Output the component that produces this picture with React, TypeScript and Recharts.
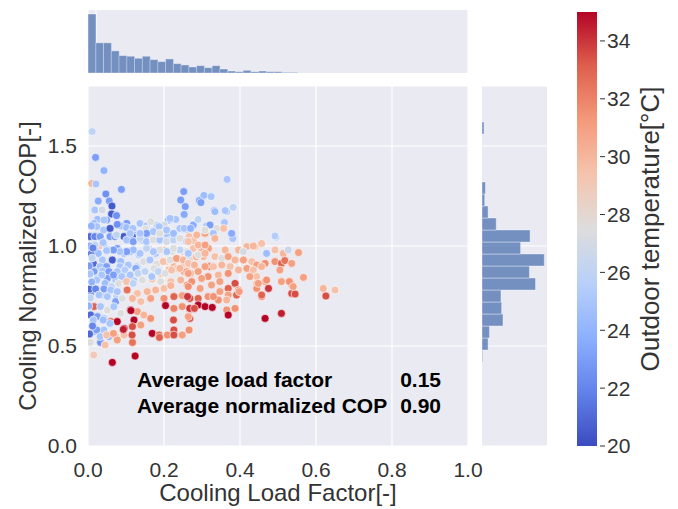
import {
  ScatterChart,
  Scatter,
  ComposedChart,
  Bar,
  XAxis,
  YAxis,
  CartesianGrid,
  Customized,
} from "recharts";

const FONT = "'Liberation Sans', Arial, sans-serif";
const INK = "#333333";
const PANEL = "#eaeaf2";
const HIST = "#4c72b0";

// axis ticks
const loadTicks = [0, 0.2, 0.4, 0.6, 0.8, 1.0];
const copTicks = [0, 0.5, 1.0, 1.5];
const tempTicks = [20, 22, 24, 26, 28, 30, 32, 34];
const tempDomain: [number, number] = [20, 35];

// summary numbers printed in the panel
const avgLoadFactor = 0.15;
const avgNormCop = 0.9;

// marginal histograms (counts)
// load factor: 49 bins over 0..1
const loadCounts = [
  88, 45, 45, 33, 26, 25, 22, 25, 20, 17, 21, 14, 12, 9, 11, 8, 11, 6, 3, 2, 4, 2, 3, 2, 2, 1, 1,
  0, 0, 0, 0, 0, 0, 0, 0, 0, 0, 0, 0, 0, 0, 0, 0, 0, 0, 0, 0, 0, 0,
];
// normalized COP: 30 bins over 0..1.8
const copCounts = [
  0, 0, 0, 0, 0, 0, 0, 1, 9, 11, 31, 29, 28, 79, 70, 92, 57, 71, 21, 9, 4, 5, 0, 0, 0, 0, 3, 0, 0, 0,
];

// [load factor, normalized COP, outdoor temperature]
const samples: [number, number, number][] = [
  // upper / sparse
  [0.011, 1.572, 26], [0.02, 1.443, 23], [0.042, 1.377, 24], [0.01, 1.313, 30], [0.021, 1.31, 25],
  [0.088, 1.283, 23], [0.047, 1.26, 22.5], [0.252, 1.272, 23], [0.366, 1.333, 25], [0.027, 1.225, 23.5],
  [0.056, 1.225, 23], [0.063, 1.2, 20.5], [0.305, 1.253, 24.5], [0.324, 1.247, 25], [0.244, 1.23, 23],
  [0.293, 1.227, 23.5], [0.256, 1.197, 23], [0.381, 1.192, 25.5], [0.332, 1.177, 24], [0.365, 1.172, 25],
  [0.018, 1.18, 25], [0.037, 1.18, 27], [0.062, 1.16, 20.5], [0.253, 1.158, 23.5], [0.358, 1.117, 25],
  [0.025, 1.133, 24.5], [0.049, 1.13, 23], [0.075, 1.152, 22.5], [0.102, 1.113, 23], [0.088, 1.1, 25],
  [0.212, 1.13, 23.5], [0.231, 1.133, 25], [0.137, 1.113, 25], [0.154, 1.1, 25], [0.181, 1.105, 26],
  [0.201, 1.105, 27], [0.277, 1.105, 23.5], [0.312, 1.1, 25], [0.339, 1.088, 27.5], [0.358, 1.093, 29.5],
  [0.041, 1.08, 25], [0.119, 1.08, 23], [0.242, 1.088, 25], [0.26, 1.08, 26], [0.308, 1.063, 31],
  [0.381, 1.037, 25], [0.495, 1.043, 26],
  [0.005, 1.047, 21], [0.018, 1.047, 22], [0.032, 1.047, 23], [0.058, 1.047, 23], [0.071, 1.047, 22.5],
  [0.095, 1.047, 20.5], [0.117, 1.047, 21], [0.203, 1.047, 27.5], [0.225, 1.047, 25],
  // core, upper half
  [0.216, 1.138, 25], [0.165, 1.122, 27.5], [0.077, 1.108, 22.5], [0.058, 1.088, 20.5], [0.102, 1.092, 24.5],
  [0.042, 1.13, 25], [0.016, 1.113, 24.5], [0.118, 1.088, 25], [0.152, 1.085, 27.5], [0.187, 1.097, 25],
  [0.209, 1.08, 27], [0.253, 1.088, 25], [0.27, 1.088, 24], [0.165, 1.055, 27.5], [0.178, 1.055, 27.5],
  [0.209, 1.047, 25], [0.121, 1.022, 25], [0.143, 1.03, 24.5], [0.191, 1.038, 25.5], [0.218, 1.03, 26],
  [0.244, 1.038, 24.5], [0.266, 1.047, 29.5], [0.042, 1.005, 25], [0.03, 1.0, 29], [0.055, 0.98, 24.5],
  [0.077, 0.988, 23], [0.095, 0.963, 25], [0.112, 0.972, 24.5], [0.134, 0.955, 25.5], [0.161, 0.988, 27.5],
  [0.178, 0.963, 25], [0.2, 0.98, 29.5], [0.222, 0.972, 27.5], [0.235, 0.938, 31], [0.253, 0.972, 30],
  [0.266, 0.947, 29.5], [0.014, 0.913, 21], [0.038, 0.93, 25], [0.064, 0.93, 20.5], [0.086, 0.922, 24.5],
  [0.103, 0.897, 25], [0.13, 0.897, 23], [0.152, 0.922, 27.5], [0.178, 0.905, 29.5], [0.204, 0.922, 29.5],
  [0.226, 0.897, 30], [0.253, 0.913, 29.5], [0.27, 0.905, 27.5],
  [0.317, 0.988, 31], [0.299, 0.972, 30], [0.277, 0.988, 29.5], [0.26, 0.972, 27.5], [0.242, 0.98, 26],
  [0.225, 0.988, 27.5], [0.207, 0.972, 25], [0.189, 0.98, 27.5], [0.172, 0.972, 25], [0.154, 0.988, 26],
  [0.137, 0.963, 25], [0.119, 0.98, 24.5], [0.102, 0.972, 23], [0.084, 0.972, 25], [0.067, 0.98, 23],
  [0.049, 0.977, 25], [0.027, 0.963, 24.5], [0.016, 0.988, 23], [0.102, 1.03, 25], [0.119, 1.022, 23],
  [0.137, 1.038, 26], [0.154, 1.022, 25], [0.172, 1.03, 27.5], [0.189, 1.03, 25], [0.207, 1.022, 27],
  [0.225, 1.03, 26], [0.242, 1.038, 27.5], [0.26, 1.022, 25], [0.277, 1.027, 29.5], [0.04, 1.017, 25],
  [0.018, 1.005, 26], [0.172, 1.072, 25], [0.189, 1.063, 27.5], [0.207, 1.08, 25], [0.225, 1.063, 24.5],
  [0.154, 1.063, 23], [0.137, 1.063, 25], [0.111, 1.063, 25], [0.075, 1.055, 26], [0.023, 1.097, 25],
  [0.032, 0.897, 25], [0.049, 0.897, 23], [0.084, 0.897, 25], [0.106, 0.905, 25], [0.128, 0.897, 26],
  [0.146, 0.922, 27.5], [0.163, 0.93, 25], [0.181, 0.91, 27.5], [0.198, 0.922, 29.5], [0.216, 0.93, 27.5],
  [0.233, 0.938, 31], [0.251, 0.93, 30], [0.268, 0.933, 27.5], [0.286, 0.947, 31], [0.304, 0.947, 30],
  [0.321, 0.897, 33],
  // core, lower half
  [0.016, 0.872, 23], [0.038, 0.875, 25], [0.055, 0.872, 23], [0.077, 0.872, 25], [0.097, 0.88, 25.5],
  [0.126, 0.888, 23.5], [0.147, 0.872, 26], [0.174, 0.888, 27.5], [0.191, 0.863, 29.5], [0.213, 0.88, 30],
  [0.235, 0.888, 29.5], [0.253, 0.872, 31], [0.27, 0.863, 30], [0.025, 0.838, 25], [0.051, 0.838, 23],
  [0.073, 0.83, 25], [0.095, 0.835, 23.5], [0.121, 0.825, 25], [0.143, 0.83, 27.5], [0.169, 0.835, 29.5],
  [0.191, 0.822, 27.5], [0.218, 0.822, 29.5], [0.244, 0.83, 30], [0.261, 0.805, 31],
  [0.067, 0.855, 23], [0.036, 0.855, 25], [0.089, 0.847, 25], [0.111, 0.855, 25], [0.132, 0.863, 26],
  [0.15, 0.872, 26], [0.168, 0.847, 25], [0.185, 0.872, 26], [0.203, 0.863, 27.5], [0.22, 0.88, 29.5],
  [0.242, 0.888, 30], [0.26, 0.872, 31],
  [0.023, 0.83, 25], [0.045, 0.813, 24.5], [0.062, 0.797, 26], [0.08, 0.813, 27.5], [0.102, 0.822, 29.5],
  [0.119, 0.813, 26], [0.01, 0.763, 23], [0.027, 0.755, 29.5], [0.04, 0.755, 25], [0.075, 0.747, 26],
  [0.005, 0.785, 21], [0.02, 0.785, 22], [0.042, 0.785, 23], [0.06, 0.78, 25], [0.077, 0.772, 25],
  [0.103, 0.78, 32.5], [0.13, 0.763, 29.5], [0.156, 0.772, 30], [0.178, 0.78, 30], [0.2, 0.788, 29.5],
  [0.218, 0.802, 30], [0.029, 0.755, 25], [0.051, 0.747, 25], [0.073, 0.722, 23], [0.09, 0.738, 27.5],
  [0.117, 0.738, 30], [0.139, 0.722, 29.5], [0.165, 0.738, 31], [0.2, 0.738, 31.5], [0.226, 0.747, 33],
  [0.248, 0.752, 31], [0.268, 0.738, 33.5], [0.016, 0.697, 33], [0.033, 0.697, 25], [0.051, 0.68, 27.5],
  [0.068, 0.697, 25], [0.086, 0.663, 27.5], [0.112, 0.68, 35], [0.13, 0.672, 31], [0.147, 0.655, 30],
  [0.165, 0.638, 31.5], [0.204, 0.702, 35], [0.226, 0.688, 32], [0.248, 0.697, 31.5], [0.268, 0.688, 34.5],
  [0.007, 0.655, 21], [0.025, 0.647, 23], [0.042, 0.638, 25], [0.06, 0.622, 33], [0.077, 0.622, 35],
  [0.095, 0.588, 35], [0.121, 0.63, 35], [0.117, 0.597, 33.5], [0.139, 0.605, 31], [0.169, 0.563, 35],
  [0.187, 0.555, 33], [0.209, 0.555, 31.5], [0.226, 0.58, 33.5], [0.226, 0.555, 33.5], [0.248, 0.555, 31],
  [0.266, 0.58, 31.5], [0.268, 0.638, 33.5], [0.016, 0.572, 24.5], [0.042, 0.58, 25], [0.055, 0.547, 24],
  [0.073, 0.547, 29.5], [0.077, 0.53, 31], [0.095, 0.555, 29.5], [0.117, 0.518, 32.5], [0.006, 0.518, 27.5],
  [0.033, 0.518, 22.5], [0.045, 0.505, 29.5], [0.015, 0.455, 29], [0.124, 0.45, 35], [0.064, 0.418, 35],
  [0.014, 0.63, 25], [0.04, 0.63, 24.5], [0.058, 0.613, 25], [0.023, 0.58, 23], [0.032, 0.547, 25],
  [0.049, 0.555, 29.5], [0.067, 0.563, 31],
  // mid load band
  [0.297, 1.217, 23], [0.334, 1.172, 24.5], [0.361, 1.177, 25], [0.382, 1.193, 26], [0.321, 1.105, 23],
  [0.29, 1.133, 26], [0.359, 1.117, 25], [0.357, 1.088, 29.5], [0.308, 1.08, 27.5], [0.33, 1.063, 25],
  [0.378, 1.063, 23.5], [0.492, 1.05, 25.5], [0.286, 1.055, 30], [0.334, 1.038, 30], [0.264, 1.022, 29.5],
  [0.29, 1.005, 30], [0.308, 1.005, 31], [0.361, 0.98, 30], [0.418, 0.997, 30], [0.439, 0.997, 30],
  [0.457, 1.013, 29.5], [0.47, 0.963, 24.5], [0.492, 0.98, 29.5], [0.514, 0.963, 30], [0.527, 0.98, 26.5],
  [0.396, 0.98, 30], [0.409, 0.972, 27], [0.264, 0.963, 25], [0.29, 0.955, 27.5], [0.308, 0.963, 30],
  [0.334, 0.947, 29.5], [0.352, 0.938, 27.5], [0.369, 0.947, 31], [0.387, 0.93, 30], [0.409, 0.93, 31],
  [0.431, 0.922, 29.5], [0.444, 0.905, 31], [0.466, 0.913, 31.5], [0.492, 0.922, 31.5], [0.509, 0.913, 33],
  [0.264, 0.913, 29.5], [0.28, 0.905, 30], [0.308, 0.897, 31], [0.33, 0.897, 29.5], [0.352, 0.905, 30],
  [0.374, 0.897, 29.5], [0.396, 0.88, 30], [0.418, 0.888, 31], [0.435, 0.88, 29.5], [0.457, 0.897, 30],
  [0.505, 0.88, 31], [0.264, 0.863, 31], [0.29, 0.872, 31], [0.316, 0.847, 31.5], [0.343, 0.855, 30],
  [0.369, 0.863, 31.5], [0.273, 0.822, 31.5], [0.299, 0.838, 31], [0.347, 0.822, 31], [0.387, 0.813, 33.5],
  [0.444, 0.813, 30], [0.466, 0.822, 31], [0.509, 0.822, 31], [0.536, 0.805, 31.5], [0.264, 0.797, 31.5],
  [0.295, 0.788, 31], [0.325, 0.805, 31], [0.369, 0.788, 33], [0.396, 0.78, 31.5], [0.444, 0.788, 31.5],
  [0.475, 0.788, 34], [0.369, 0.755, 31], [0.391, 0.755, 33], [0.457, 0.747, 32], [0.536, 0.763, 33.5],
  [0.262, 0.747, 34], [0.29, 0.738, 33], [0.316, 0.747, 31.5], [0.343, 0.73, 31.5], [0.365, 0.73, 30],
  [0.268, 0.688, 34], [0.29, 0.705, 35], [0.308, 0.697, 35], [0.327, 0.693, 35], [0.28, 0.688, 33.5],
  [0.264, 0.647, 31], [0.365, 0.68, 31.5], [0.387, 0.688, 31.5], [0.369, 0.655, 35], [0.466, 0.638, 35],
  [0.509, 0.663, 34.5],
  // high load tail
  [0.554, 0.967, 31], [0.518, 0.927, 32.5], [0.536, 0.913, 31], [0.567, 0.843, 31], [0.53, 0.822, 31.5],
  [0.619, 0.788, 30], [0.65, 0.78, 29.5], [0.626, 0.75, 33.5], [0.545, 0.76, 33.5], [0.54, 0.797, 31],
  [0.457, 0.755, 33], [0.435, 1.0, 30], [0.47, 0.83, 31.5], [0.444, 0.847, 29.5], [0.426, 0.847, 31],
  [0.448, 0.813, 31], [0.398, 0.772, 31], [0.347, 0.772, 31], [0.33, 0.747, 31.5], [0.225, 0.63, 33.5],
  [0.188, 0.543, 33], [0.116, 0.555, 33.5], [0.113, 0.677, 35], [0.093, 0.583, 34.5],
  // near-zero load
  [0.004, 1.0, 24], [0.008, 0.96, 22], [0.003, 0.9, 23], [0.01, 0.82, 24], [0.006, 0.74, 26],
  [0.012, 0.6, 22], [0.004, 0.56, 21], [0.009, 1.1, 24], [0.013, 0.99, 22], [0.002, 0.7, 24],
  [0.011, 0.94, 26], [0.005, 0.86, 25],
];

// matplotlib "coolwarm"
const coolwarmStops = [
  [59, 76, 192], [98, 130, 234], [141, 176, 254], [184, 208, 249], [221, 221, 221],
  [245, 196, 173], [244, 154, 123], [222, 96, 77], [180, 4, 38],
];

function tempColor(t: number) {
  const n = coolwarmStops.length - 1;
  const f = Math.min(Math.max((t - tempDomain[0]) / (tempDomain[1] - tempDomain[0]), 0), 1) * n;
  const i = Math.min(Math.floor(f), n - 1);
  const k = f - i;
  const a = coolwarmStops[i];
  const b = coolwarmStops[i + 1];
  const c = a.map((v, j) => Math.round(v + (b[j] - v) * k));
  return `rgb(${c[0]},${c[1]},${c[2]})`;
}

const points = samples.map(([x, y, t]) => ({ x, y, t }));
const loadHist = loadCounts.map((count, bin) => ({ bin, count }));
const copHist = copCounts.map((count, bin) => ({ bin, count }));
const colorbarData = [{ name: "temp", span: tempDomain }];

const tickStyle = { fontSize: 21, fill: INK, fontFamily: FONT };
const labelStyle = { fontSize: 24, fill: INK, fontFamily: FONT, textAnchor: "middle" as const };

const Dot = (props: any) => {
  const { cx, cy, payload } = props;
  if (cx == null || cy == null) return null;
  return <circle cx={cx} cy={cy} r={4} fill={tempColor(payload.t)} stroke="#ffffff" strokeWidth={0.6} />;
};

// matplotlib-style colour bar tick: short dash, small gap, label
const ColorbarTick = (props: any) => {
  const { x, y, payload } = props;
  return (
    <g>
      <line x1={x + 3} x2={x + 8} y1={y} y2={y} stroke={INK} strokeWidth={1} />
      <text x={x + 10} y={y} dy="0.355em" textAnchor="start" {...tickStyle}>
        {payload.value}
      </text>
    </g>
  );
};

// ticks that exist for the grid but draw nothing
const NoTick = () => <g />;

const Summary = () => (
  <g fontFamily={FONT} fontWeight="bold" fontSize={21} fill="#000">
    <text x={137} y={387}>Average load factor</text>
    <text x={441} y={387} textAnchor="end">
      {avgLoadFactor.toFixed(2)}
    </text>
    <text x={137} y={413}>Average normalized COP</text>
    <text x={441} y={413} textAnchor="end">
      {avgNormCop.toFixed(2)}
    </text>
  </g>
);

export default function App() {
  return (
    <div
      style={{
        position: "absolute",
        left: 0,
        top: 0,
        width: 678,
        height: 509,
        background: "#fff",
        fontFamily: FONT,
        overflow: "hidden",
      }}
    >
      {/* gradient shared by the colour bar */}
      <svg width={0} height={0} style={{ position: "absolute" }}>
        <defs>
          <linearGradient id="coolwarm" x1="0" y1="1" x2="0" y2="0">
            {coolwarmStops.map((c, i) => (
              <stop
                key={i}
                offset={`${(i / (coolwarmStops.length - 1)) * 100}%`}
                stopColor={`rgb(${c[0]},${c[1]},${c[2]})`}
              />
            ))}
          </linearGradient>
        </defs>
      </svg>

      {/* main scatter */}
      <div style={{ position: "absolute", left: 0, top: 0 }}>
        <ScatterChart width={500} height={509} margin={{ top: 86, right: 32, bottom: 8, left: 18 }}>
          <CartesianGrid fill={PANEL} stroke="#ffffff" strokeWidth={1.2} />
          <XAxis
            type="number"
            dataKey="x"
            domain={[0, 1]}
            ticks={loadTicks}
            allowDataOverflow
            tickFormatter={(v: number) => v.toFixed(1)}
            axisLine={false}
            tickLine={false}
            tickSize={0}
            tickMargin={16}
            height={55}
            tick={tickStyle}
            label={{ value: "Cooling Load Factor[-]", position: "insideBottom", offset: 0, style: labelStyle }}
          />
          <YAxis
            type="number"
            dataKey="y"
            domain={[0, 1.8]}
            ticks={copTicks}
            allowDataOverflow
            tickFormatter={(v: number) => v.toFixed(1)}
            axisLine={false}
            tickLine={false}
            tickSize={0}
            tickMargin={11}
            width={70}
            tick={tickStyle}
            label={{
              value: "Cooling Normalized COP[-]",
              angle: -90,
              position: "insideLeft",
              offset: 9,
              style: labelStyle,
            }}
          />
          <Scatter data={points} shape={Dot} isAnimationActive={false} />
          <Customized component={Summary} />
        </ScatterChart>
      </div>

      {/* top marginal: load factor */}
      <div style={{ position: "absolute", left: 0, top: 0 }}>
        <ComposedChart
          width={480}
          height={80}
          data={loadHist}
          margin={{ top: 10, right: 12, bottom: 7, left: 88 }}
          barCategoryGap={0}
          barGap={0}
        >
          <CartesianGrid xAxisId="num" horizontal={false} fill={PANEL} stroke="#ffffff" strokeWidth={1.2} />
          <XAxis xAxisId="cat" dataKey="bin" type="category" hide />
          <XAxis xAxisId="num" type="number" domain={[0, 1]} ticks={loadTicks} allowDataOverflow hide />
          <YAxis type="number" domain={[0, 94]} allowDataOverflow hide />
          <Bar
            xAxisId="cat"
            dataKey="count"
            fill={HIST}
            fillOpacity={0.75}
            stroke="#ffffff"
            strokeOpacity={0.6}
            strokeWidth={0.6}
            isAnimationActive={false}
          />
        </ComposedChart>
      </div>

      {/* right marginal panel: background + COP grid lines on the same scale as the main plot */}
      <div style={{ position: "absolute", left: 482, top: 86 }}>
        <ScatterChart width={65} height={360} margin={{ top: 0, right: 0, bottom: 0, left: 0 }}>
          <CartesianGrid vertical={false} fill={PANEL} stroke="#ffffff" strokeWidth={1.2} />
          <XAxis type="number" domain={[0, 1]} allowDataOverflow hide />
          <YAxis
            type="number"
            domain={[0, 1.8]}
            ticks={copTicks}
            interval={0}
            allowDataOverflow
            mirror
            tick={NoTick}
            axisLine={false}
            tickLine={false}
          />
        </ScatterChart>
      </div>

      {/* right marginal bars: a column chart turned 90deg */}
      <div
        style={{
          position: "absolute",
          left: 547,
          top: 86,
          transform: "rotate(90deg)",
          transformOrigin: "0 0",
        }}
      >
        <ComposedChart
          width={360}
          height={65}
          data={copHist}
          margin={{ top: 0, right: 0, bottom: 0, left: 0 }}
          barCategoryGap={0}
          barGap={0}
        >
          <XAxis dataKey="bin" type="category" reversed hide />
          <YAxis type="number" domain={[0, 96]} allowDataOverflow hide />
          <Bar
            dataKey="count"
            fill={HIST}
            fillOpacity={0.75}
            stroke="#ffffff"
            strokeOpacity={0.6}
            strokeWidth={0.6}
            isAnimationActive={false}
          />
        </ComposedChart>
      </div>

      {/* colour bar */}
      <div style={{ position: "absolute", left: 560, top: 0 }}>
        <ComposedChart
          width={118}
          height={509}
          data={colorbarData}
          margin={{ top: 12, right: 21, bottom: 63, left: 17 }}
          barCategoryGap={0}
        >
          <XAxis dataKey="name" type="category" hide />
          <YAxis
            orientation="right"
            type="number"
            domain={tempDomain}
            ticks={tempTicks}
            allowDataOverflow
            axisLine={false}
            tickLine={false}
            tickSize={0}
            tickMargin={0}
            width={60}
            tick={ColorbarTick}
            label={{
              value: "Outdoor temperature[°C]",
              angle: -90,
              position: "insideRight",
              offset: 7,
              style: { ...labelStyle, fontSize: 26 },
            }}
          />
          <Bar dataKey="span" fill="url(#coolwarm)" isAnimationActive={false} />
        </ComposedChart>
      </div>
    </div>
  );
}
